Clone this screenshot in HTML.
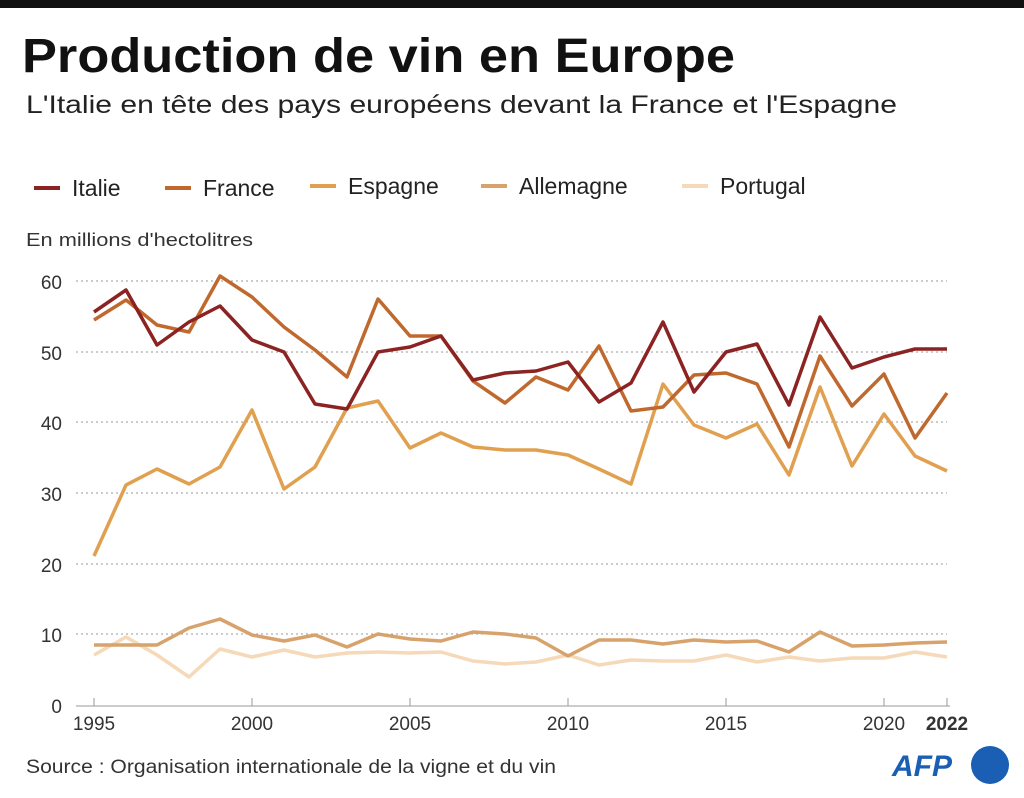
<!DOCTYPE html>
<html><head><meta charset="utf-8"><style>
body{margin:0;background:#fff;width:1024px;height:793px;overflow:hidden;font-family:"Liberation Sans",sans-serif}
</style></head><body>
<svg width="1024" height="793" xmlns="http://www.w3.org/2000/svg" font-family="Liberation Sans, sans-serif">
<rect x="0" y="0" width="1024" height="8" fill="#111"/>
<text x="22" y="72" font-size="48" font-weight="bold" fill="#111" textLength="713" lengthAdjust="spacingAndGlyphs">Production de vin en Europe</text>
<text x="26" y="113" font-size="25" fill="#222" textLength="871" lengthAdjust="spacingAndGlyphs">L'Italie en tête des pays européens devant la France et l'Espagne</text>
<g font-size="23" fill="#222">
<line x1="34" y1="188" x2="60" y2="188" stroke="#8b2323" stroke-width="4"/><text x="72" y="196">Italie</text>
<line x1="165" y1="188" x2="191" y2="188" stroke="#c0692e" stroke-width="4"/><text x="203" y="196">France</text>
<line x1="310" y1="186" x2="336" y2="186" stroke="#e0a050" stroke-width="4"/><text x="348" y="194">Espagne</text>
<line x1="481" y1="186" x2="507" y2="186" stroke="#d7a26c" stroke-width="4"/><text x="519" y="194">Allemagne</text>
<line x1="682" y1="186" x2="708" y2="186" stroke="#f5d9b8" stroke-width="4"/><text x="720" y="194">Portugal</text>
</g>
<text x="26" y="246" font-size="18" fill="#333" textLength="227" lengthAdjust="spacingAndGlyphs">En millions d'hectolitres</text>
<g stroke="#999" stroke-width="1" stroke-dasharray="2,3">
<line x1="76" y1="281" x2="947" y2="281"/><line x1="76" y1="352" x2="947" y2="352"/><line x1="76" y1="422" x2="947" y2="422"/><line x1="76" y1="493" x2="947" y2="493"/><line x1="76" y1="564" x2="947" y2="564"/><line x1="76" y1="634" x2="947" y2="634"/>
</g>
<line x1="76" y1="706" x2="950" y2="706" stroke="#bbb" stroke-width="1.5"/>
<g stroke="#999"><line x1="94" y1="698" x2="94" y2="706"/><line x1="252" y1="698" x2="252" y2="706"/><line x1="410" y1="698" x2="410" y2="706"/><line x1="568" y1="698" x2="568" y2="706"/><line x1="726" y1="698" x2="726" y2="706"/><line x1="884" y1="698" x2="884" y2="706"/><line x1="947" y1="698" x2="947" y2="706"/></g>
<g font-size="19" fill="#333" text-anchor="end">
<text x="62" y="289">60</text><text x="62" y="360">50</text><text x="62" y="430">40</text><text x="62" y="501">30</text><text x="62" y="572">20</text><text x="62" y="642">10</text><text x="62" y="713">0</text>
</g>
<g font-size="19" fill="#333" text-anchor="middle">
<text x="94" y="730">1995</text><text x="252" y="730">2000</text><text x="410" y="730">2005</text><text x="568" y="730">2010</text><text x="726" y="730">2015</text><text x="884" y="730">2020</text><text x="947" y="730" font-weight="bold">2022</text>
</g>
<g fill="none" stroke-width="3.5" stroke-linejoin="round">
<polyline stroke="#f5d9b8" points="94,655 126,637 157,655 189,677 220,649 252,657 284,650 315,657 347,653 378,652 410,653 441,652 473,661 505,664 536,662 568,655 599,665 631,660 663,661 694,661 726,655 757,662 789,657 820,661 852,658 884,658 915,652 947,657"/>
<polyline stroke="#d7a26c" points="94,645 126,645 157,645 189,628 220,619 252,635 284,641 315,635 347,647 378,634 410,639 441,641 473,632 505,634 536,638 568,656 599,640 631,640 663,644 694,640 726,642 757,641 789,652 820,632 852,646 884,645 915,643 947,642"/>
<polyline stroke="#e0a050" points="94,556 126,485 157,469 189,484 220,467 252,410 284,489 315,467 347,408 378,401 410,448 441,433 473,447 505,450 536,450 568,455 599,469 631,484 663,384 694,425 726,438 757,424 789,475 820,387 852,466 884,414 915,456 947,471"/>
<polyline stroke="#c0692e" points="94,320 126,300 157,325 189,332 220,276 252,297 284,327 315,350 347,377 378,299 410,336 441,336 473,381 505,403 536,377 568,390 599,346 631,411 663,407 694,375 726,373 757,384 789,447 820,356 852,406 884,374 915,438 947,393"/>
<polyline stroke="#8b2323" points="94,312 126,290 157,345 189,322 220,306 252,340 284,352 315,404 347,409 378,352 410,347 441,336 473,380 505,373 536,371 568,362 599,402 631,383 663,322 694,392 726,352 757,344 789,405 820,317 852,368 884,357 915,349 947,349"/>
</g>
<text x="26" y="773" font-size="19" fill="#333" textLength="530" lengthAdjust="spacingAndGlyphs">Source : Organisation internationale de la vigne et du vin</text>
<text x="892" y="776" font-size="30" font-weight="bold" fill="#1a5fb4" font-style="italic">AFP</text>
<circle cx="990" cy="765" r="19" fill="#1a5fb4"/>
</svg>
</body></html>
